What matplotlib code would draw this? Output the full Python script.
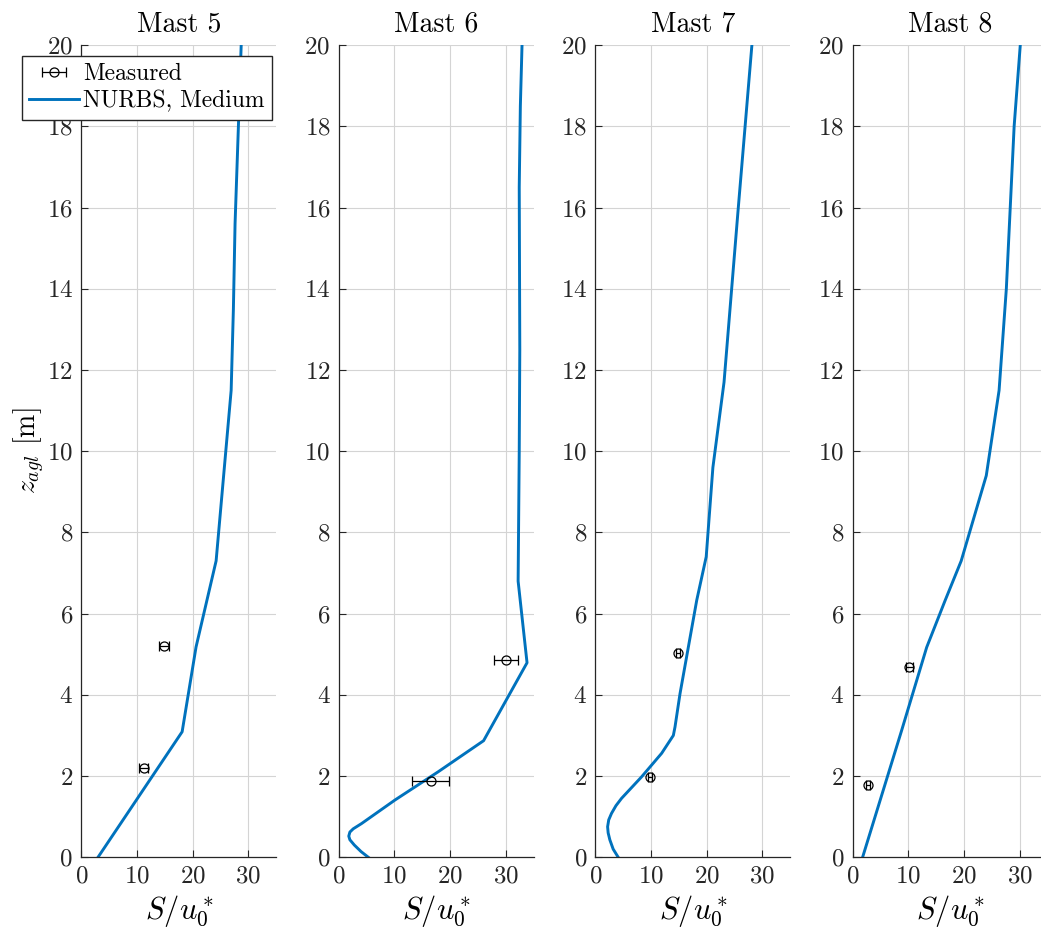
import matplotlib
matplotlib.use("Agg")
import matplotlib.pyplot as plt
from matplotlib import rcParams

rcParams['font.family'] = 'serif'
rcParams['font.serif'] = ['cmr10', 'DejaVu Serif']
rcParams['mathtext.fontset'] = 'cm'
rcParams['axes.formatter.use_mathtext'] = True

titles = ["Mast 5", "Mast 6", "Mast 7", "Mast 8"]

# simulated profiles (S/u0*, z)
sim_s = [
    [3.0, 18.1, 20.6, 24.2, 26.9, 27.3, 27.6, 28.2, 28.7],
    [5.3, 4.0, 2.8, 2.0, 1.8, 2.0, 2.6, 4.1, 10.1, 17.8, 26.0, 33.8, 32.2, 32.4, 32.5, 32.4, 32.6, 32.9],
    [4.1, 3.2, 2.6, 2.3, 2.2, 2.4, 2.9, 3.7, 4.7, 8.3, 11.9, 14.0, 14.3, 15.2, 18.2, 19.9, 21.1, 23.1, 25.6, 28.1],
    [1.8, 8.8, 13.3, 16.6, 19.5, 24.0, 26.3, 27.6, 28.3, 29.0, 30.1],
]
sim_z = [
    [0.0, 3.09, 5.18, 7.3, 11.5, 13.5, 15.6, 18.0, 20.0],
    [0.0, 0.14, 0.3, 0.43, 0.52, 0.62, 0.7, 0.83, 1.41, 2.1, 2.87, 4.79, 6.8, 10.0, 12.5, 16.5, 18.5, 20.0],
    [0.0, 0.2, 0.43, 0.6, 0.75, 0.92, 1.08, 1.27, 1.45, 1.98, 2.56, 3.0, 3.21, 4.03, 6.33, 7.4, 9.6, 11.7, 15.9, 20.0],
    [0.0, 3.12, 5.17, 6.32, 7.3, 9.4, 11.5, 14.0, 16.0, 18.0, 20.0],
]

# measurements
meas_s = [[11.2, 14.9], [16.5, 30.0], [9.8, 14.8], [2.8, 10.2]]
meas_z = [[2.2, 5.2], [1.89, 4.87], [1.98, 5.02], [1.79, 4.69]]
meas_err = [[0.8, 0.9], [3.3, 2.1], [0.4, 0.4], [0.4, 0.7]]

blue = '#0072BD'
fig = plt.figure(figsize=(10.41, 9.38), dpi=100)
lefts = [0.0781, 0.3254, 0.5719, 0.8190]
axes = []
for i in range(4):
    ax = fig.add_axes([lefts[i], 0.0861, 0.1873, 0.8657])
    axes.append(ax)
    hm = ax.errorbar(meas_s[i], meas_z[i], xerr=meas_err[i], fmt='o', mfc='none',
                     mec='black', ecolor='black', color='black', ms=6.5, mew=0.9,
                     elinewidth=0.9, capsize=3.5, capthick=0.9, label='Measured', zorder=3)
    hl, = ax.plot(sim_s[i], sim_z[i], color=blue, lw=2.1, label='NURBS, Medium', zorder=2,
                  solid_joinstyle='round')
    ax.set_xlim(0, 35)
    ax.set_ylim(0, 20)
    ax.set_xticks([0, 10, 20, 30])
    ax.set_yticks(range(0, 21, 2))
    ax.grid(True, color='#d4d4d4', lw=0.8)
    ax.set_axisbelow(True)
    for sp in ['top', 'right']:
        ax.spines[sp].set_visible(False)
    for sp in ['left', 'bottom']:
        ax.spines[sp].set_color('#262626')
        ax.spines[sp].set_linewidth(0.9)
    ax.tick_params(direction='in', length=5, width=0.8, labelsize=18, colors='#262626',
                   labelcolor='#262626', pad=6)
    ax.set_title(titles[i], fontsize=20, pad=10)
    ax.set_xlabel(r'$S/u_0^*$', fontsize=22, labelpad=4)

axes[0].set_ylabel(r'$z_{agl}$ [m]', fontsize=20, labelpad=0)
axes[0].legend(handles=[hm, hl], loc='upper left', bbox_to_anchor=(0.021, 0.940),
               bbox_transform=fig.transFigure, fontsize=17, frameon=True, fancybox=False,
               edgecolor='#262626', framealpha=1, borderpad=0.3, handlelength=2.1,
               handletextpad=0.2, labelspacing=0.2, borderaxespad=0)

fig.savefig('out.png', dpi=100)
